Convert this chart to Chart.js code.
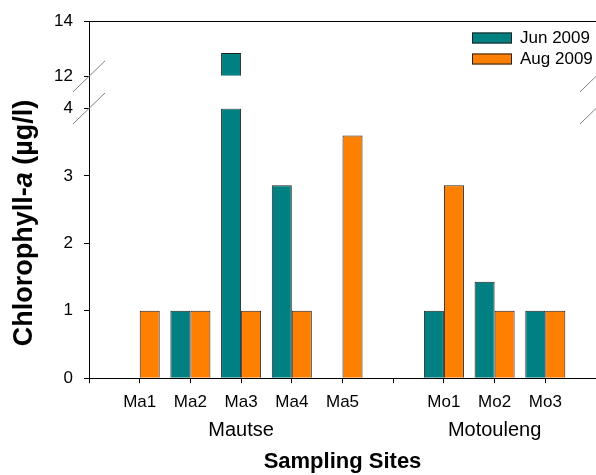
<!DOCTYPE html>
<html>
<head>
<meta charset="utf-8">
<script src="https://cdn.jsdelivr.net/npm/chart.js@4/dist/chart.umd.min.js"></script>
<style>
  html, body { margin: 0; padding: 0; background: #fff; }
  canvas { display: block; }
</style>
</head>
<body>
<canvas id="chart" width="596" height="475"></canvas>
<script>
// categories (blank slots keep the gaps at both ends and between the two sites)
const sites = ["", "Ma1", "Ma2", "Ma3", "Ma4", "Ma5", "", "Mo1", "Mo2", "Mo3", ""];
const groups = ["", "", "", "Mautse", "", "", "", "", "Motouleng", "", ""];
// chlorophyll-a, µg/l
const jun2009 = [null, null, 1, 12.85, 2.86, null, null, 1, 1.43, 1, null];
const aug2009 = [null, 1, 1, 1, 1, 3.6, null, 2.86, 1, 1, null];
// broken y axis: lower part and upper part
const lowTicks = [0, 1, 2, 3, 4];
const highTicks = [12, 14];

const teal = "#008080";
const orange = "#FF8000";
const fontFamily = "'Liberation Sans', Arial, sans-serif";

const breakLow = lowTicks[lowTicks.length - 1];
const breakHigh = highTicks[0];

function lowPart(list) {
    return list.map(v => v == null ? null : Math.min(v, breakLow));
}
function highPart(list) {
    return list.map(v => v != null && v > breakHigh ? v : null);
}

function barSet(label, data, color, stack, axis) {
    return {
        label: label,
        data: data,
        backgroundColor: color,
        borderColor: "#222",
        borderWidth: 1,
        stack: stack,
        yAxisID: axis,
        base: axis == "yHigh" ? breakHigh : undefined,
        categoryPercentage: 0.79,
        barPercentage: 1.0
    };
}

// slashes, rotated title with italic "a", legend in the top right corner
const decor = {
    id: "decor",
    afterDraw(chart) {
        const ctx = chart.ctx;
        const area = chart.chartArea;
        const yLow = chart.scales.yLow;
        const yHigh = chart.scales.yHigh;

        ctx.save();
        ctx.strokeStyle = "#808080";
        ctx.lineWidth = 1;
        [area.left, area.right].forEach(x => {
            [yHigh.getPixelForValue(breakHigh), yLow.getPixelForValue(breakLow)].forEach(y => {
                ctx.beginPath();
                ctx.moveTo(x - 16, y + 15.5);
                ctx.lineTo(x + 16, y - 15.5);
                ctx.stroke();
            });
        });
        ctx.restore();

        // y title
        const parts = [
            ["Chlorophyll-", "bold 27px " + fontFamily],
            ["a", "italic bold 27px " + fontFamily],
            [" (µg/l)", "bold 27px " + fontFamily]
        ];
        ctx.save();
        ctx.translate(25, 223);
        ctx.rotate(-Math.PI / 2);
        ctx.fillStyle = "#000";
        ctx.textBaseline = "middle";
        ctx.textAlign = "left";
        let total = 0;
        parts.forEach(p => { ctx.font = p[1]; total += ctx.measureText(p[0]).width; });
        let x = -total / 2;
        parts.forEach(p => {
            ctx.font = p[1];
            ctx.fillText(p[0], x, 0);
            x += ctx.measureText(p[0]).width;
        });
        ctx.restore();

        // legend
        ctx.save();
        ctx.font = "17px " + fontFamily;
        ctx.textBaseline = "middle";
        chart.data.datasets.slice(0, 2).forEach((ds, i) => {
            const bx = area.right - 124;
            const by = 38 + i * 21;
            ctx.fillStyle = ds.backgroundColor;
            ctx.fillRect(bx, by - 5.5, 40, 11);
            ctx.strokeStyle = "#222";
            ctx.lineWidth = 1;
            ctx.strokeRect(bx + 0.5, by - 5.5 + 0.5, 39, 10);
            ctx.fillStyle = "#000";
            ctx.fillText(ds.label, bx + 48, by);
        });
        ctx.restore();
    }
};

const axisWidth = s => { s.width = 89; };

new Chart(document.getElementById("chart"), {
    type: "bar",
    data: {
        labels: sites,
        datasets: [
            barSet("Jun 2009", lowPart(jun2009), teal, "jun", "yLow"),
            barSet("Aug 2009", lowPart(aug2009), orange, "aug", "yLow"),
            barSet("Jun 2009", highPart(jun2009), teal, "jun", "yHigh"),
            barSet("Aug 2009", highPart(aug2009), orange, "aug", "yHigh")
        ]
    },
    options: {
        responsive: false,
        animation: false,
        layout: { padding: { top: 21, right: 0, bottom: 0, left: 0 } },
        plugins: {
            legend: { display: false },
            tooltip: { enabled: false }
        },
        scales: {
            x: {
                offset: false,
                grid: { offset: false, drawOnChartArea: false, tickLength: 5, color: "#000" },
                border: { color: "#000" },
                ticks: {
                    autoSkip: false,
                    maxRotation: 0,
                    padding: 0,
                    color: "#000",
                    font: { family: fontFamily, size: 17, lineHeight: 2.2 }
                }
            },
            xGroup: {
                type: "category",
                position: "bottom",
                labels: groups,
                offset: false,
                grid: { display: false, drawTicks: false, offset: false },
                border: { display: false },
                ticks: {
                    autoSkip: false,
                    maxRotation: 0,
                    padding: 0,
                    color: "#000",
                    font: { family: fontFamily, size: 20, lineHeight: 1.0 }
                },
                title: {
                    display: true,
                    text: "Sampling Sites",
                    color: "#000",
                    padding: { top: 8, bottom: 0 },
                    font: { family: fontFamily, size: 22, weight: "bold" }
                }
            },
            yLow: {
                type: "linear",
                position: "left",
                stack: "v",
                stackWeight: 269,
                stacked: false,
                min: lowTicks[0],
                max: breakLow,
                afterFit: axisWidth,
                grid: { drawOnChartArea: false, tickLength: 5, color: "#000" },
                border: { color: "#000" },
                ticks: { stepSize: 1, padding: 11, color: "#000", font: { family: fontFamily, size: 17 } }
            },
            yGap: {
                type: "linear",
                position: "left",
                stack: "v",
                stackWeight: 32,
                min: 0,
                max: 1,
                afterFit: axisWidth,
                grid: { display: false },
                border: { color: "#000" },
                ticks: { display: false }
            },
            yHigh: {
                type: "linear",
                position: "left",
                stack: "v",
                stackWeight: 55,
                stacked: false,
                beginAtZero: false,
                min: breakHigh,
                max: highTicks[highTicks.length - 1],
                afterFit: axisWidth,
                grid: {
                    tickLength: 5,
                    tickColor: "#000",
                    color: c => c.tick && c.tick.value == highTicks[highTicks.length - 1] ? "#000" : "rgba(0,0,0,0)"
                },
                border: { color: "#000" },
                ticks: { stepSize: 2, padding: 11, color: "#000", font: { family: fontFamily, size: 17 } }
            }
        }
    },
    plugins: [decor]
});
</script>
</body>
</html>
